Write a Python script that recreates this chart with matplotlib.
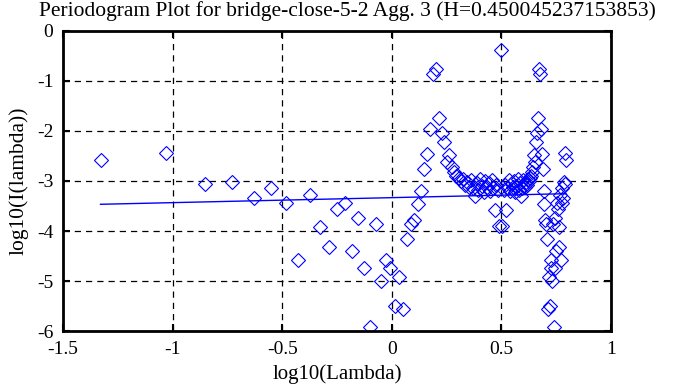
"""
Periodogram plot (gnuplot look) for bridge-close-5-2, aggregation level 3
"""
import numpy as np
import matplotlib
matplotlib.use("Agg")
import matplotlib.pyplot as plt


### Data

n_obs = 134                       # series length, lambda_k = 2*pi*k/n
k = np.arange(1, n_obs)           # frequency index 1..133

# log10(I(lambda_k)), k = 1..133
logI = [
    -2.58, -2.45, -3.07, -3.02, -3.33, -3.15, -3.43, -4.57, -3.27, -3.91,
    -4.32, -3.55, -3.43, -4.40, -3.73, -4.73, -5.91, -3.85, -4.99, -4.57,
    -4.73, -5.50, -4.91, -5.55, -4.15, -3.85, -3.78, -3.45, -3.21, -2.77,
    -2.46, -1.96, -0.86, -0.77, -1.75, -2.05, -2.22, -2.62, -2.48, -2.72,
    -2.82, -2.90, -2.95, -3.00, -2.97, -3.08, -3.02, -3.12, -2.98, -3.15,
    -3.30, -3.05, -3.18, -2.96, -3.10, -3.22, -3.00, -3.12, -3.05, -3.20,
    -2.98, -3.15, -3.58, -3.08, -3.18, -3.90, -0.38,
    -3.90, -3.18, -3.08, -3.58, -3.15, -2.98, -3.20, -3.05, -3.12, -3.00,
    -3.22, -3.10, -2.96, -3.18, -3.05, -3.30, -3.15, -2.98, -3.12, -3.02,
    -3.08, -2.97, -3.00, -2.95, -2.90, -2.82, -2.72, -2.48, -2.62, -2.22,
    -2.05, -1.75, -0.77, -0.86, -1.96, -2.46, -2.77, -3.21, -3.45, -3.78,
    -3.85, -4.15, -5.55, -4.91, -5.50, -4.73, -4.57, -4.99, -3.85, -5.91,
    -4.73, -3.73, -4.40, -3.43, -3.55, -4.32, -3.91, -3.27, -4.57, -3.43,
    -3.15, -3.33, -3.02, -3.07, -2.45, -2.58,
]

H = 0.450045237153853
fit_slope = 1 - 2 * H             # slope of the least squares line
fit_icpt = -3.333                 # value of the fit at log10(lambda) = 0

x_ticks = [-1.5, -1, -0.5, 0, 0.5, 1]
y_ticks = [0, -1, -2, -3, -4, -5, -6]


### plot

plt.rcParams['font.family'] = ['Liberation Serif', 'DejaVu Serif']

lam = 2 * np.pi * k / n_obs
x = np.log10(lam)
y = np.array(logI)

fig = plt.figure(figsize=(6.74, 3.87), dpi=100)
ax = fig.add_axes([0.0935, 0.1447, 0.813, 0.7752])

ax.plot(x, y, ls='none', marker='D', ms=7.5, mfc='none', mec='#0000ff', mew=0.8)

xl = np.array([x.min(), x.max()])
ax.plot(xl, fit_icpt + fit_slope * xl, c='#0000ff', lw=1.0)

ax.set_xlim(-1.5, 1)
ax.set_ylim(-6, 0)
ax.set_xticks(x_ticks)
ax.set_xticklabels(['-1.5', '-1', '-0.5', '0', '0.5', '1'])
ax.set_yticks(y_ticks)
ax.set_yticklabels(['0', '-1', '-2', '-3', '-4', '-5', '-6'])
ax.tick_params(direction='in', length=5, width=1.5, top=True, right=True,
               labelsize=14, colors='black')
ax.tick_params(axis='x', pad=7)
ax.tick_params(axis='y', pad=7)
ax.grid(True, ls=(0, (5, 4)), c='black', lw=0.9)
for s in ax.spines.values():
    s.set_linewidth(2)

ax.set_xlabel('log10(Lambda)', fontsize=15, labelpad=5)
ax.set_ylabel('log10(I(lambda))', fontsize=15.5, labelpad=6)
fig.text(0.515, 1 - 11 / 387, 'Periodogram Plot for bridge-close-5-2 Agg. 3 (H=%s)' % repr(H),
         fontsize=15.5, ha='center', va='center')

fig.savefig('out.png', dpi=100)
